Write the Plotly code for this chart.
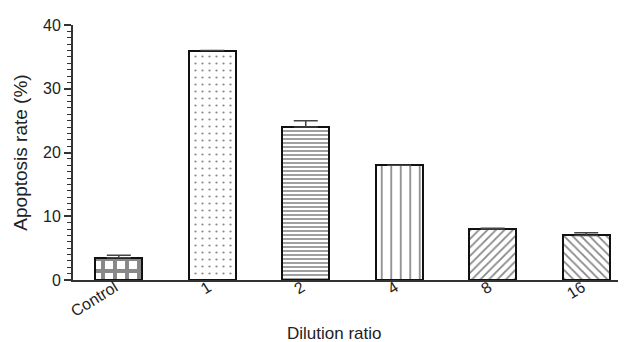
import plotly.graph_objects as go

categories = ["Control", "1", "2", "4", "8", "16"]
values = [3.5, 36.0, 24.0, 18.0, 8.0, 7.0]
errors = [0.4, 0.0, 1.0, 0.0, 0.1, 0.4]
patterns = ["+", ".", "-", "|", "/", "\\"]

pattern_size = [12, 7, 4, 9.5, 6, 6]
pattern_solid = [0.55, 0.08, 0.4, 0.18, 0.3, 0.3]

fig = go.Figure()
fig.add_trace(go.Bar(
    x=list(range(len(categories))),
    y=values,
    width=0.5,
    marker=dict(
        color="white",
        line=dict(color="#111", width=2),
        pattern=dict(shape=patterns, fgcolor="#111", bgcolor="white",
                     size=pattern_size, solidity=pattern_solid, fillmode="overlay"),
    ),
    error_y=dict(type="data", array=errors, arrayminus=[0]*6, symmetric=False,
                 color="#444", thickness=1.5, width=12),
))

fig.update_layout(
    width=626, height=342,
    margin=dict(l=65, r=2, t=17, b=70),
    plot_bgcolor="white", paper_bgcolor="white",
    font=dict(family="Liberation Sans, Arial, sans-serif", color="#222", size=16),
    showlegend=False,
    bargap=0,
    annotations=[dict(text="Dilution ratio", xref="paper", yref="paper",
                      x=0.468, y=-0.21, xanchor="center", yanchor="middle",
                      showarrow=False, font=dict(size=17, color="#222"))],
)
fig.update_xaxes(
    range=[-0.49, 5.49],
    tickvals=list(range(len(categories))), ticktext=categories,
    tickangle=-32, showline=True, linecolor="#333", linewidth=2,
    ticks="", showgrid=False, zeroline=False, automargin=False,
    ticklabelshift=-4, ticklabelstandoff=-10,
)
fig.update_yaxes(
    range=[0, 40], dtick=10, showline=True, linecolor="#333", linewidth=2,
    ticks="outside", ticklen=7, tickwidth=2, tickcolor="#333",
    minor=dict(dtick=1, ticks="outside", ticklen=4, tickwidth=1, tickcolor="#333"),
    showgrid=False, zeroline=False, automargin=False,
    title=dict(text="Apoptosis rate (%)", font=dict(size=19), standoff=10),
)

fig.write_html("out.html")
